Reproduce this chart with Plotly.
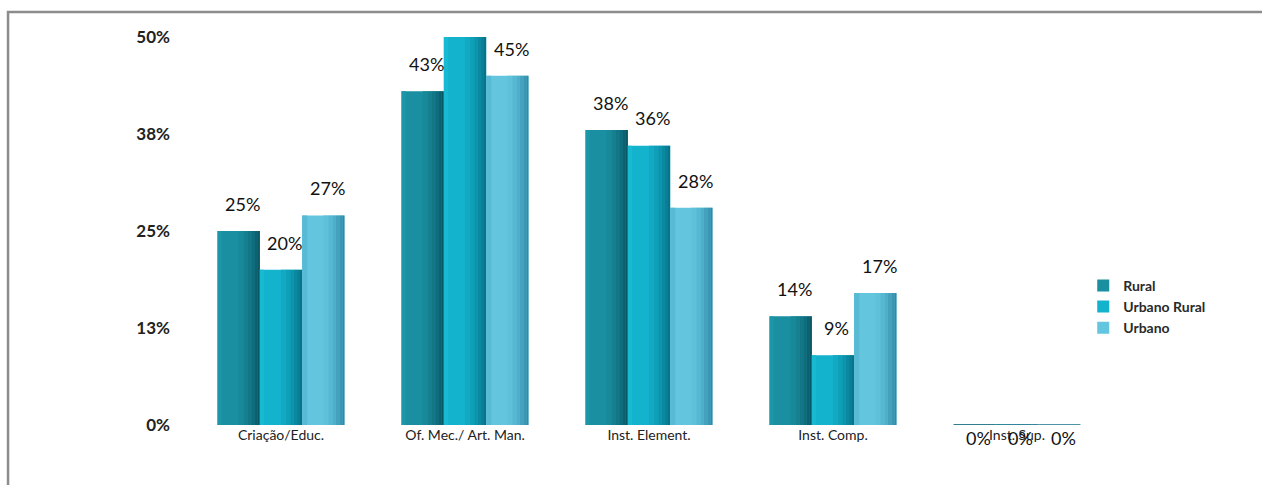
import plotly.graph_objects as go

# Distribution by area type across occupation categories (%)
categories = ["Criação/Educ.", "Of. Mec./ Art. Man.", "Inst. Element.", "Inst. Comp.", "Inst. Sup."]
series_names = ["Rural", "Urbano Rural", "Urbano"]
rural = [25, 43, 38, 14, 0]
urbano_rural = [20, 50, 36, 9, 0]
urbano = [27, 45, 28, 17, 0]
y_ticks = [0, 12.5, 25, 37.5, 50]
y_tick_labels = ["0%", "13%", "25%", "38%", "50%"]

series_values = [rural, urbano_rural, urbano]
base_colors = ["#1a8fa2", "#13b2cd", "#64c5de"]
# cylinder-like shading: (start fraction, end fraction, colour) across each bar
shading = [
    [(0.0, 0.10, "#1c96a9"), (0.50, 0.62, "#188999"), (0.62, 0.72, "#15808f"),
     (0.72, 0.80, "#127686"), (0.80, 0.88, "#0f6c7b"), (0.88, 0.95, "#0c6170"), (0.95, 1.0, "#0a5866")],
    [(0.0, 0.10, "#18b9d3"), (0.50, 0.62, "#11a9c3"), (0.62, 0.72, "#0f9fb8"),
     (0.72, 0.80, "#0d94ad"), (0.80, 0.88, "#0b89a1"), (0.88, 0.95, "#097e95"), (0.95, 1.0, "#07738a")],
    [(0.0, 0.12, "#58bad4"), (0.50, 0.62, "#60c1da"), (0.62, 0.72, "#58b8d2"),
     (0.72, 0.80, "#4faec9"), (0.80, 0.88, "#45a2bf"), (0.88, 0.95, "#3b96b3"), (0.95, 1.0, "#328aa7")],
]
zero_line_colors = ["#2f7f8c", "#2f8799", "#4f95a6"]

bar_w = 0.23
offsets = [-0.345, -0.115, 0.115]
xs = list(range(len(categories)))

fig = go.Figure()
for s, (name, vals) in enumerate(zip(series_names, series_values)):
    fig.add_trace(go.Bar(
        x=xs, y=vals, name=name, width=bar_w, offset=offsets[s],
        marker=dict(color=base_colors[s], line=dict(width=0)),
        hoverinfo="x+y",
    ))
    for f0, f1, col in shading[s]:
        fig.add_trace(go.Bar(
            x=xs, y=vals, width=bar_w * (f1 - f0), offset=offsets[s] + bar_w * f0,
            marker=dict(color=col, line=dict(width=0)),
            showlegend=False, hoverinfo="skip",
        ))
    # zero-valued bars show as a flat disc edge on the baseline
    for i, v in enumerate(vals):
        if v == 0:
            x0 = i + offsets[s]
            fig.add_trace(go.Scatter(
                x=[x0, x0 + bar_w], y=[v, v], mode="lines",
                line=dict(color=zero_line_colors[s], width=2),
                showlegend=False, hoverinfo="skip",
            ))

# value labels above each bar
annotations = []
for s, vals in enumerate(series_values):
    for i, v in enumerate(vals):
        cx = i + offsets[s] + bar_w / 2
        if v == 0:
            ly, shift = 0, -13
        else:
            ly, shift = min(v + 3.5, 51.0), 0
        annotations.append(dict(
            x=cx + 0.02, y=ly, yshift=shift, xref="x", yref="y", text=f"{v}%",
            showarrow=False, yanchor="middle", xanchor="center",
            font=dict(family="Lato", size=18, color="#111111"),
        ))

# outer frame line (top and left edges)
fig.add_shape(
    type="path", xref="paper", yref="paper",
    path="M -0.1967,-0.3 L -0.1967,1.0644 L 1.3,1.0644",
    line=dict(color="#8c8c8c", width=2.5),
)

fig.update_layout(
    width=1262, height=485,
    margin=dict(l=189, r=153, t=37, b=60),
    paper_bgcolor="white", plot_bgcolor="white",
    barmode="overlay",
    showlegend=True,
    legend=dict(
        x=0.972, y=0.40, xanchor="left", yanchor="top",
        font=dict(family="Lato", size=14, color="#2a2a2a", weight="bold"),
        itemwidth=30, tracegroupgap=0, bgcolor="rgba(0,0,0,0)",
    ),
    annotations=annotations,
    xaxis=dict(
        range=[-0.5, 4.5], tickmode="array", tickvals=xs, ticktext=categories,
        showgrid=False, zeroline=False, showline=False, ticks="",
        tickfont=dict(family="Lato", size=14, color="#222222"),
    ),
    yaxis=dict(
        range=[0, 50], tickmode="array", tickvals=y_ticks, ticktext=y_tick_labels,
        showgrid=False, zeroline=False, showline=False, ticks="",
        tickfont=dict(family="Lato", size=17, color="#222222", weight="bold"),
        ticklabelstandoff=18,
    ),
)
fig.update_traces(cliponaxis=False)

fig.write_html("out.html")
